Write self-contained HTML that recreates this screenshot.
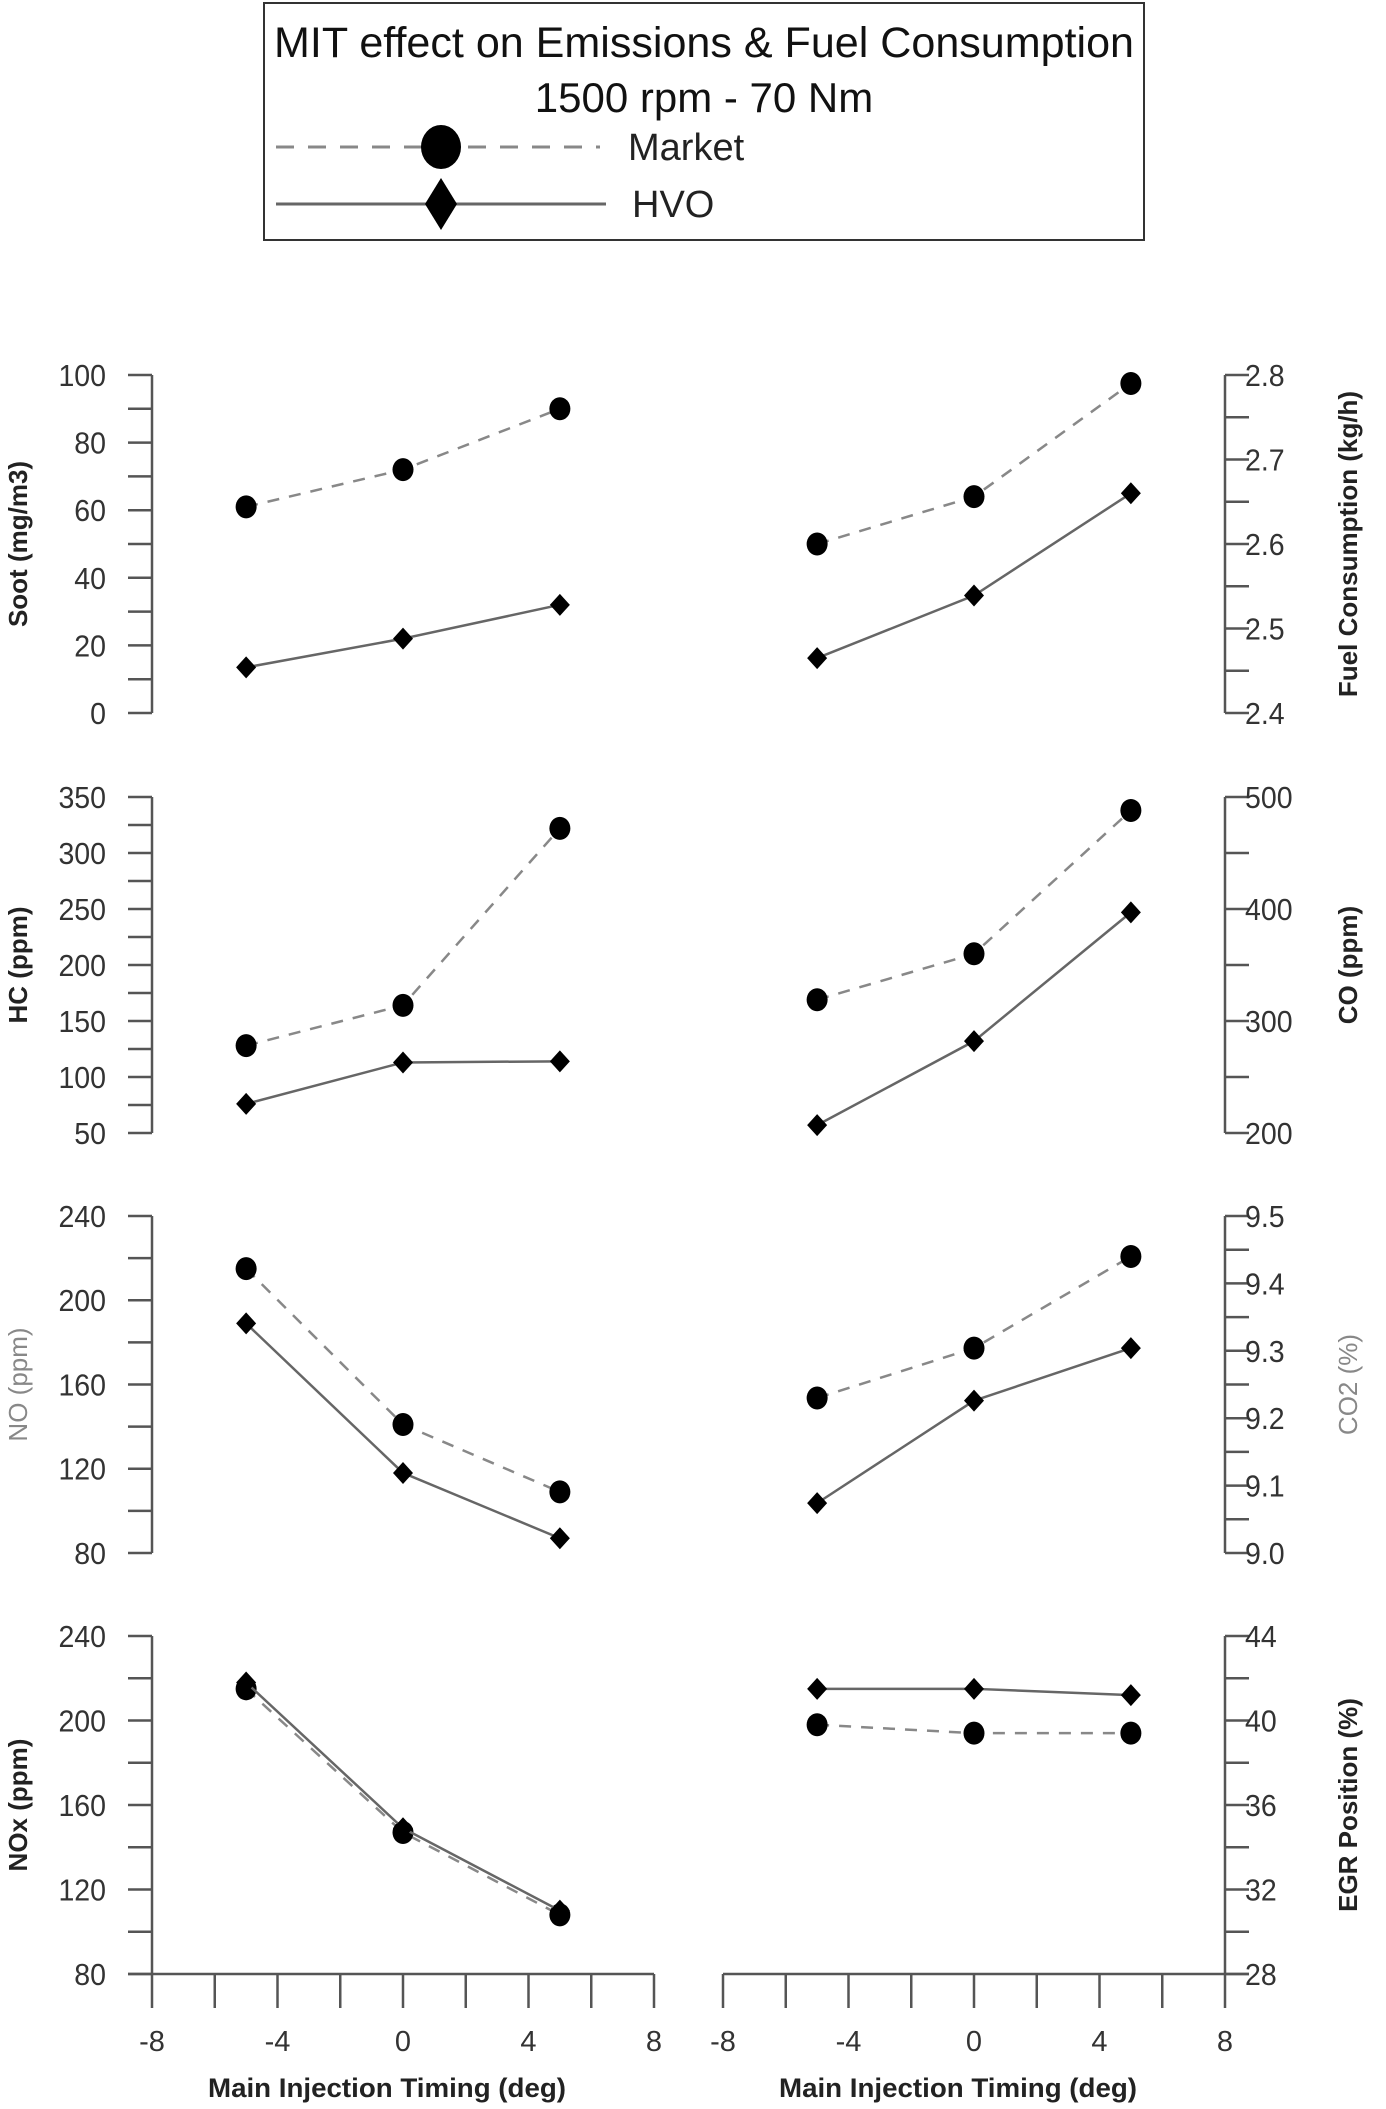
<!DOCTYPE html>
<html><head><meta charset="utf-8"><style>
html,body{margin:0;padding:0;background:#fff;}
svg{display:block;font-family:"Liberation Sans",sans-serif;}
</style></head><body>
<svg id="chart" width="1386" height="2109" viewBox="0 0 1386 2109" xmlns="http://www.w3.org/2000/svg">
<g>
<rect x="264" y="3" width="880" height="237" fill="#fff" stroke="#333" stroke-width="2"/>
<text x="704" y="57" text-anchor="middle" font-size="43" fill="#111" textLength="860" lengthAdjust="spacingAndGlyphs">MIT effect on Emissions &amp; Fuel Consumption</text>
<text x="704" y="112" text-anchor="middle" font-size="42" fill="#111">1500 rpm - 70 Nm</text>
<g>
<line x1="276" y1="147" x2="600" y2="147" stroke="#888" stroke-width="3" stroke-dasharray="18,14"/>
<ellipse cx="441" cy="147" rx="20" ry="22" fill="#000"/>
<text x="628" y="160" font-size="38" fill="#222">Market</text>
</g>
<g>
<line x1="276" y1="204" x2="606" y2="204" stroke="#666" stroke-width="3"/>
<polygon points="441,178 457,204 441,230 425,204" fill="#000"/>
<text x="632" y="217" font-size="38" fill="#222">HVO</text>
</g>
</g>
<g id="plots"></g>
</svg>
<script>
const xValues = [-5, 0, 5];
const xTicks = [-8, -4, 0, 4, 8];
const sootMarket = [61, 72, 90];
const sootHVO = [13.5, 22, 32];
const fcMarket = [2.60, 2.656, 2.79];
const fcHVO = [2.465, 2.539, 2.66];
const hcMarket = [128, 164, 322];
const hcHVO = [76, 113, 114];
const coMarket = [319, 360, 488];
const coHVO = [207, 282, 397];
const noMarket = [215, 141, 109];
const noHVO = [189, 118, 87];
const co2Market = [9.23, 9.304, 9.44];
const co2HVO = [9.074, 9.226, 9.304];
const noxMarket = [215, 147, 108];
const noxHVO = [218, 149, 110];
const egrMarket = [39.8, 39.4, 39.4];
const egrHVO = [41.5, 41.5, 41.2];
const sootTicks = [0, 20, 40, 60, 80, 100];
const fcTicks = [2.4, 2.5, 2.6, 2.7, 2.8];
const hcTicks = [50, 100, 150, 200, 250, 300, 350];
const coTicks = [200, 300, 400, 500];
const noTicks = [80, 120, 160, 200, 240];
const co2Ticks = [9.0, 9.1, 9.2, 9.3, 9.4, 9.5];
const noxTicks = [80, 120, 160, 200, 240];
const egrTicks = [28, 32, 36, 40, 44];

const NS = 'http://www.w3.org/2000/svg';
const root = document.getElementById('plots');
function mk(tag, attrs, parent){
  const e = document.createElementNS(NS, tag);
  for (const k in attrs) e.setAttribute(k, attrs[k]);
  (parent || root).appendChild(e);
  return e;
}
const rows = [[375,713],[797,1133],[1216,1553],[1636,1974]];
const cols = {left:[152,654], right:[723,1225]};

function panel(o){
  const [x0,x1] = cols[o.side];
  const [yt,yb] = rows[o.row];
  const tk = o.ticks;
  const lo = tk[0], hi = tk[tk.length-1];
  const xs = v => x0 + (v - (-8)) / 16 * (x1 - x0);
  const ys = v => yb - (v - lo) / (hi - lo) * (yb - yt);
  const g = mk('g', {});
  
  
  const ax = o.side === 'left' ? x0 : x1;
  const dir = o.side === 'left' ? -1 : 1;
  const axis = mk('line', {x1:ax, y1:yt, x2:ax, y2:yb, stroke:'#555', 'stroke-width':2.5}, g);
  
  
  const step = (tk[1]-tk[0])/2;
  for (let v = lo; v <= hi + 1e-9; v += step){
    const t = mk('line', {x1:ax, y1:ys(v), x2:ax + dir*24, y2:ys(v), stroke:'#555', 'stroke-width':2.5}, g);
    
    
  }
  tk.forEach(v => {
    const tx = ax + dir*(o.side==='left'?46:20);
    const t = mk('text', {x: tx/0.92, y: ys(v)+11, 'font-size':31, fill:'#333',
      'text-anchor': o.side==='left'?'end':'start', transform:`scale(0.92 1)`}, g);
    
    
    t.textContent = o.fmt ? v.toFixed(o.fmt) : v;
  });
  const lx = o.side==='left' ? 27 : 1357;
  const ly = (yt+yb)/2;
  const tt = mk('text', {x:lx, y:ly, 'font-size':26, 'font-weight':o.light?'normal':'bold',
    fill:o.light?'#888':'#222', 'text-anchor':'middle', transform:`rotate(-90 ${lx} ${ly})`}, g);
  
  
  tt.textContent = o.title;
  if (o.row === 3){
    const xa = mk('line', {x1:x0 - (o.side==='left'?24:0), y1:yb, x2:x1 + (o.side==='right'?24:0), y2:yb, stroke:'#555', 'stroke-width':2.5}, g);
    
    
    for (let v = -8; v <= 8; v += 2){
      const t = mk('line', {x1:xs(v), y1:yb, x2:xs(v), y2:yb+34, stroke:'#555', 'stroke-width':2.5}, g);
      
      
    }
    xTicks.forEach(v => {
      const t = mk('text', {x:xs(v), y:2051, 'font-size':29, fill:'#333', 'text-anchor':'middle'}, g);
      
      
      t.textContent = v;
    });
    const xt = mk('text', {x:(x0+x1)/2 - 16, y:2097, 'font-size':27, 'font-weight':'bold', fill:'#222', 'text-anchor':'middle', textLength:358, lengthAdjust:'spacingAndGlyphs'}, g);
    
    
    xt.textContent = 'Main Injection Timing (deg)';
  }
  const series = [
    {vals:o.market, dash:'12,10', col:'#888', mark:'circle', nm:'market'},
    {vals:o.hvo, dash:null, col:'#666', mark:'diamond', nm:'hvo'}
  ];
  series.forEach(s => {
    const pts = s.vals.map((v,i)=>xs(xValues[i])+','+ys(v)).join(' ');
    const pl = mk('polyline', {points:pts, fill:'none', stroke:s.col, 'stroke-width':2.5}, g);
    if (s.dash) pl.setAttribute('stroke-dasharray', s.dash);
    
    
    s.vals.forEach((v,i) => {
      const cx = xs(xValues[i]), cy = ys(v);
      let m;
      if (s.mark==='circle') m = mk('ellipse', {cx, cy, rx:10.5, ry:11.5, fill:'#000'}, g);
      else m = mk('polygon', {points:`${cx},${cy-11} ${cx+10},${cy} ${cx},${cy+11} ${cx-10},${cy}`, fill:'#000'}, g);
      
      
    });
  });
}
panel({name:'soot', side:'left', row:0, ticks:sootTicks, market:sootMarket, hvo:sootHVO, title:'Soot (mg/m3)'});
panel({name:'fuel', side:'right', row:0, ticks:fcTicks, fmt:1, market:fcMarket, hvo:fcHVO, title:'Fuel Consumption (kg/h)'});
panel({name:'hc', side:'left', row:1, ticks:hcTicks, market:hcMarket, hvo:hcHVO, title:'HC (ppm)'});
panel({name:'co', side:'right', row:1, ticks:coTicks, market:coMarket, hvo:coHVO, title:'CO (ppm)'});
panel({name:'no', side:'left', row:2, ticks:noTicks, market:noMarket, hvo:noHVO, title:'NO (ppm)', light:true});
panel({name:'co2', side:'right', row:2, ticks:co2Ticks, fmt:1, market:co2Market, hvo:co2HVO, title:'CO2 (%)', light:true});
panel({name:'nox', side:'left', row:3, ticks:noxTicks, market:noxMarket, hvo:noxHVO, title:'NOx (ppm)'});
panel({name:'egr', side:'right', row:3, ticks:egrTicks, market:egrMarket, hvo:egrHVO, title:'EGR Position (%)'});
</script>
</body></html>
